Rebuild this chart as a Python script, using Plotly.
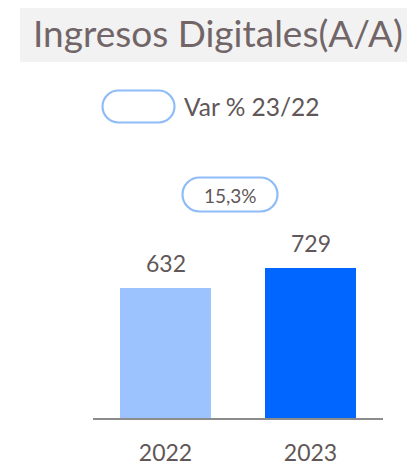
import plotly.graph_objects as go

# ---- data ----
categories = ["2022", "2023"]
values = [632, 729]
bar_colors = ["#9DC3FE", "#0066FF"]
title_text = "Ingresos Digitales(A/A)"
legend_text = "Var % 23/22"
var_text = "15,3%"

OFF = 8  # page body margin
W, H = 415 - OFF, 474 - OFF
L, R, T, B = 93 - OFF, 32, 130 - OFF, 56
PW, PH = W - L - R, H - T - B
TXT = "#615758"
FONT = "Lato"

def px_x(x):
    return (x - OFF - L) / PW

def px_y(y):
    return (H - B - (y - OFF)) / PH

def pill(w, h):
    r = h / 2.0
    k = 0.5523 * r
    x0, x1 = -w / 2 + r, w / 2 - r
    return (f"M {x0},{-r} L {x1},{-r} "
            f"C {x1 + k},{-r} {x1 + r},{-k} {x1 + r},0 "
            f"C {x1 + r},{k} {x1 + k},{r} {x1},{r} "
            f"L {x0},{r} "
            f"C {x0 - k},{r} {x0 - r},{k} {x0 - r},0 "
            f"C {x0 - r},{-k} {x0 - k},{-r} {x0},{-r} Z")

fig = go.Figure()
fig.add_trace(go.Bar(
    x=categories, y=values, marker=dict(color=bar_colors, line=dict(width=0)),
    width=0.628, showlegend=False, hoverinfo="skip",
))

shapes = [
    dict(type="rect", xref="paper", yref="paper", x0=px_x(20), x1=px_x(430),
         y0=px_y(62), y1=px_y(5), fillcolor="#F2F2F2", line=dict(width=0), layer="below"),
    dict(type="path", xref="paper", yref="paper", xsizemode="pixel", ysizemode="pixel",
         xanchor=px_x(138.5), yanchor=px_y(106.5), path=pill(72, 32),
         line=dict(color="#8FBCF7", width=2.2), fillcolor="rgba(0,0,0,0)"),
    dict(type="path", xref="paper", yref="paper", xsizemode="pixel", ysizemode="pixel",
         xanchor=px_x(230), yanchor=px_y(194.5), path=pill(95, 34),
         line=dict(color="#8FBCF7", width=2.2), fillcolor="rgba(0,0,0,0)"),
]

annotations = [
    dict(text=title_text, xref="paper", yref="paper", x=px_x(31), y=px_y(32),
         xanchor="left", yanchor="middle", showarrow=False,
         font=dict(family=FONT, size=37, color="#716567")),
    dict(text=legend_text, xref="paper", yref="paper", x=px_x(182), y=px_y(107),
         xanchor="left", yanchor="middle", showarrow=False,
         font=dict(family=FONT, size=24.5, color=TXT)),
    dict(text=var_text, xref="paper", yref="paper", x=px_x(230), y=px_y(195),
         xanchor="center", yanchor="middle", showarrow=False,
         font=dict(family=FONT, size=19, color=TXT)),
]
for i, v in enumerate(values):
    annotations.append(dict(text=str(v), x=i, y=v, xref="x", yref="y",
                            yanchor="bottom", yshift=9, showarrow=False,
                            font=dict(family=FONT, size=23, color=TXT)))

fig.update_layout(
    width=W, height=H, margin=dict(l=L, r=R, t=T, b=B, pad=0, autoexpand=False),
    paper_bgcolor="white", plot_bgcolor="white",
    shapes=shapes, annotations=annotations, bargap=0,
    xaxis=dict(type="category", showline=True, linecolor="#8C8C8C", linewidth=2,
               showgrid=False, zeroline=False, ticks="", ticklabelstandoff=13,
               automargin=False,
               tickfont=dict(family=FONT, size=23, color=TXT),
               range=[-0.5, 1.5], fixedrange=True),
    yaxis=dict(visible=False, range=[0, 1400], fixedrange=True, automargin=False),
)

fig.write_html("out.html")
